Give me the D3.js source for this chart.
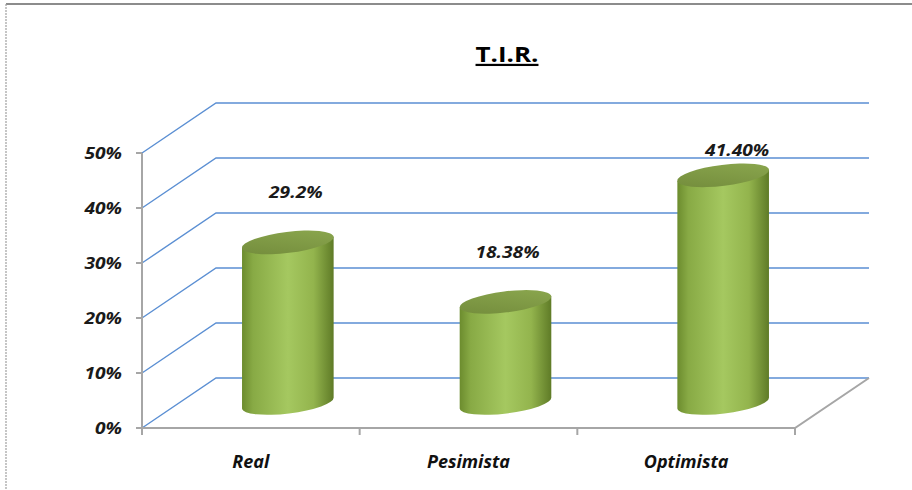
<!DOCTYPE html>
<html>
<head>
<meta charset="utf-8">
<script src="https://cdn.jsdelivr.net/npm/d3@7"></script>
<style>
  html, body { margin: 0; padding: 0; background: #fff; }
  svg { display: block; }
  text { font-family: "Open Sans", "DejaVu Sans", sans-serif; }
</style>
</head>
<body>
<svg id="chart" width="912" height="490"></svg>
<script>
// ---- data ----
const title = "T.I.R.";
const categories = ["Real", "Pesimista", "Optimista"];
const values = [0.292, 0.1838, 0.414];
const valueLabels = ["29.2%", "18.38%", "41.40%"];
const yTicks = [0, 0.1, 0.2, 0.3, 0.4, 0.5];

// ---- layout ----
const W = 912, H = 490;
const front = { x0: 142, x1: 795, y0: 428, y1: 153 };
const depth = { dx: 74, dy: -50 };
const labelNudge = [{ dx: 8, dy: 0 }, { dx: 2, dy: 0 }, { dx: 14, dy: 25 }];
const textStretch = 1.2;

const svg = d3.select("#chart");
const defs = svg.append("defs");

const x = d3.scaleBand().domain(categories).range([front.x0, front.x1]).paddingInner(0).paddingOuter(0);
const y = d3.scaleLinear().domain([0, 0.5]).range([front.y0, front.y1]);

// frame
svg.append("line").attr("x1", 6).attr("x2", W).attr("y1", 4).attr("y2", 4)
  .attr("stroke", "#8c8c8c").attr("stroke-width", 2);
svg.append("line").attr("x1", 6).attr("x2", 6).attr("y1", 4).attr("y2", H)
  .attr("stroke", "#a0a0a0").attr("stroke-width", 1.2).attr("stroke-dasharray", "2,1");

// title
svg.append("text").attr("transform", `translate(507,62) scale(1.18,1)`).attr("text-anchor", "middle")
  .attr("font-size", 22).attr("font-weight", 700)
  .attr("text-decoration", "underline").attr("fill", "#000").text(title);

// gridlines (perspective)
const backX1 = front.x1 + depth.dx;
svg.append("g").selectAll("path").data(yTicks).join("path")
  .attr("d", d => `M${front.x0},${y(d)} L${front.x0 + depth.dx},${y(d) + depth.dy} L${backX1},${y(d) + depth.dy}`)
  .attr("fill", "none").attr("stroke", "#5b8fd3").attr("stroke-width", 1.4);

// floor / axes (gray)
const gray = "#a6a6a6";
svg.append("path")
  .attr("d", `M${front.x0},${y(0)} L${front.x1},${y(0)} L${front.x1 + depth.dx},${y(0) + depth.dy}`)
  .attr("fill", "none").attr("stroke", gray).attr("stroke-width", 2);
svg.append("line").attr("x1", front.x0).attr("x2", front.x0).attr("y1", y(0.5)).attr("y2", y(0))
  .attr("stroke", gray).attr("stroke-width", 2);

// y ticks and labels
const yAxisG = svg.append("g");
yAxisG.selectAll("line").data(yTicks).join("line")
  .attr("x1", front.x0 - 6).attr("x2", front.x0).attr("y1", d => y(d)).attr("y2", d => y(d))
  .attr("stroke", gray).attr("stroke-width", 2);
yAxisG.selectAll("text").data(yTicks).join("text")
  .attr("transform", d => `translate(122,${y(d) + 6}) scale(${textStretch},1)`).attr("text-anchor", "end")
  .attr("font-size", 16).attr("font-weight", 700).attr("font-style", "italic").attr("fill", "#1a1a1a")
  .text(d => d3.format(".0%")(d));

// x ticks
const xTickPos = categories.map(c => x(c)).concat([front.x1]);
svg.append("g").selectAll("line").data(xTickPos).join("line")
  .attr("x1", d => d).attr("x2", d => d).attr("y1", y(0)).attr("y2", y(0) + 7)
  .attr("stroke", gray).attr("stroke-width", 2);

// x labels
svg.append("g").selectAll("text").data(categories).join("text")
  .attr("x", d => x(d) + x.bandwidth() / 2).attr("y", 468).attr("text-anchor", "middle")
  .attr("font-size", 18).attr("font-weight", 700).attr("font-style", "italic").attr("fill", "#111")
  .text(d => d);

// cylinder gradients
const bodyGrad = defs.append("linearGradient").attr("id", "body").attr("x1", 0).attr("x2", 1).attr("y1", 0).attr("y2", 0);
[[0, "#6c8c2e"], [0.12, "#88aa45"], [0.5, "#a5c860"], [0.78, "#93b44d"], [1, "#5f7b27"]]
  .forEach(([o, c]) => bodyGrad.append("stop").attr("offset", o).attr("stop-color", c));
const topGrad = defs.append("linearGradient").attr("id", "top").attr("x1", 0).attr("x2", 1).attr("y1", 1).attr("y2", 0);
[[0, "#728b3b"], [1, "#8ca84f"]].forEach(([o, c]) => topGrad.append("stop").attr("offset", o).attr("stop-color", c));

// cylinders
const rx = x.bandwidth() * 0.212, ry = 10.5, rot = -7;
const th = rot * Math.PI / 180;
const ex = rx * Math.cos(th), ey = rx * Math.sin(th);
const bars = svg.append("g").selectAll("g").data(categories).join("g");
bars.each(function (c, i) {
  const g = d3.select(this);
  const cx = x(c) + x.bandwidth() / 2 + depth.dx / 2;
  const yb = y(0) + depth.dy / 2;
  const yt = y(values[i]) + depth.dy / 2;
  g.append("path")
    .attr("d", `M${cx - ex},${yt - ey} L${cx - ex},${yb - ey} A${rx},${ry} ${rot} 0 0 ${cx + ex},${yb + ey} L${cx + ex},${yt + ey} Z`)
    .attr("fill", "url(#body)");
  g.append("ellipse").attr("cx", cx).attr("cy", yt).attr("rx", rx).attr("ry", ry)
    .attr("transform", `rotate(${rot},${cx},${yt})`)
    .attr("fill", "url(#top)");
  g.append("text")
    .attr("transform", `translate(${cx + labelNudge[i].dx},${yt - 44 + labelNudge[i].dy}) scale(${textStretch},1)`)
    .attr("text-anchor", "middle")
    .attr("font-size", 16).attr("font-weight", 700).attr("font-style", "italic").attr("fill", "#1a1a1a")
    .text(valueLabels[i]);
});
</script>
</body>
</html>
